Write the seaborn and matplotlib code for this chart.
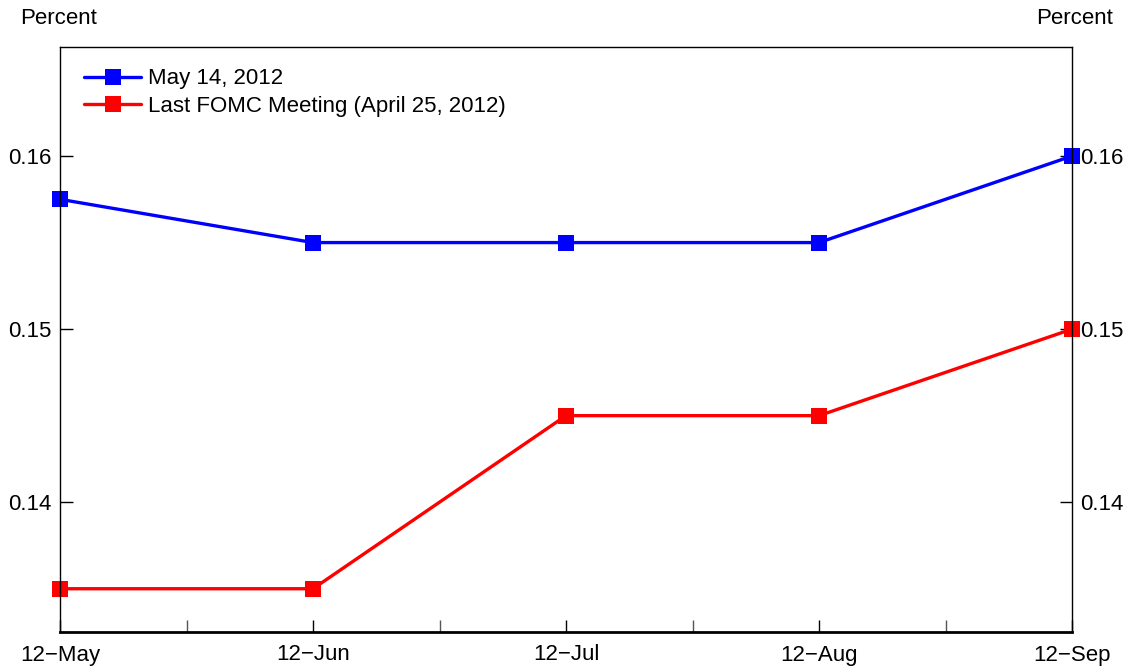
import matplotlib
matplotlib.use("Agg")
import matplotlib.pyplot as plt
import seaborn as sns
import pandas as pd
from matplotlib.ticker import FixedLocator

months = ["12\u2212May", "12\u2212Jun", "12\u2212Jul", "12\u2212Aug", "12\u2212Sep"]
may14 = [0.1575, 0.155, 0.155, 0.155, 0.16]
april25 = [0.135, 0.135, 0.145, 0.145, 0.15]
series_names = ["May 14, 2012", "Last FOMC Meeting (April 25, 2012)"]
yticks = [0.14, 0.15, 0.16]

sns.set_style("white")
plt.rcParams['font.family'] = ['Liberation Sans', 'DejaVu Sans']
plt.rcParams['text.color'] = 'black'

pos = list(range(len(months)))
df = pd.DataFrame({
    "pos": pos * 2,
    "value": may14 + april25,
    "series": [series_names[0]] * len(months) + [series_names[1]] * len(months),
})

fig = plt.figure(figsize=(11.27, 6.71), dpi=100)
ax = fig.add_axes([60/1127, 1 - 632/671, (1072-60)/1127, (632-47)/671])

sns.lineplot(data=df, x="pos", y="value", hue="series",
             palette={series_names[0]: "#0000ff", series_names[1]: "#ff0000"},
             marker="s", markersize=11, markeredgewidth=0, linewidth=2.4,
             ax=ax, legend=True, clip_on=False)

ax.set_xlim(0, len(months) - 1)
ax.set_ylim(0.1325, 0.1663)
ax.set_xticks(pos)
ax.set_xticklabels(months)
ax.xaxis.set_minor_locator(FixedLocator([p + 0.5 for p in pos[:-1]]))
ax.set_yticks(yticks)
ax.set_yticklabels(["%.2f" % v for v in yticks])
ax.set_xlabel("")
ax.set_ylabel("")

ax.tick_params(axis="x", which="both", direction="in", length=9, width=1,
               labelsize=16, pad=9, colors="black", bottom=True, top=False)
ax.tick_params(axis="x", which="minor", length=9, width=1, color="#555555")
ax.tick_params(axis="y", which="both", direction="in", length=9, width=1,
               labelsize=16, pad=6, left=True, right=True,
               labelleft=True, labelright=True, colors="black")

for s in ["left", "right", "top"]:
    ax.spines[s].set_visible(True)
    ax.spines[s].set_linewidth(1.0)
    ax.spines[s].set_color("black")
ax.spines["bottom"].set_linewidth(2.0)
ax.spines["bottom"].set_color("black")

leg = ax.legend(loc="upper left", bbox_to_anchor=(0.008, 0.99), frameon=False,
                fontsize=16, handlelength=2.6, handletextpad=0.3,
                labelspacing=0.3, borderaxespad=0.3)
for t in leg.get_texts():
    t.set_color("black")

fig.text(20/1127, 1 - 18/671, "Percent", fontsize=16, ha="left", va="center")
fig.text(1113/1127, 1 - 18/671, "Percent", fontsize=16, ha="right", va="center")

fig.savefig("out.png", dpi=100)
